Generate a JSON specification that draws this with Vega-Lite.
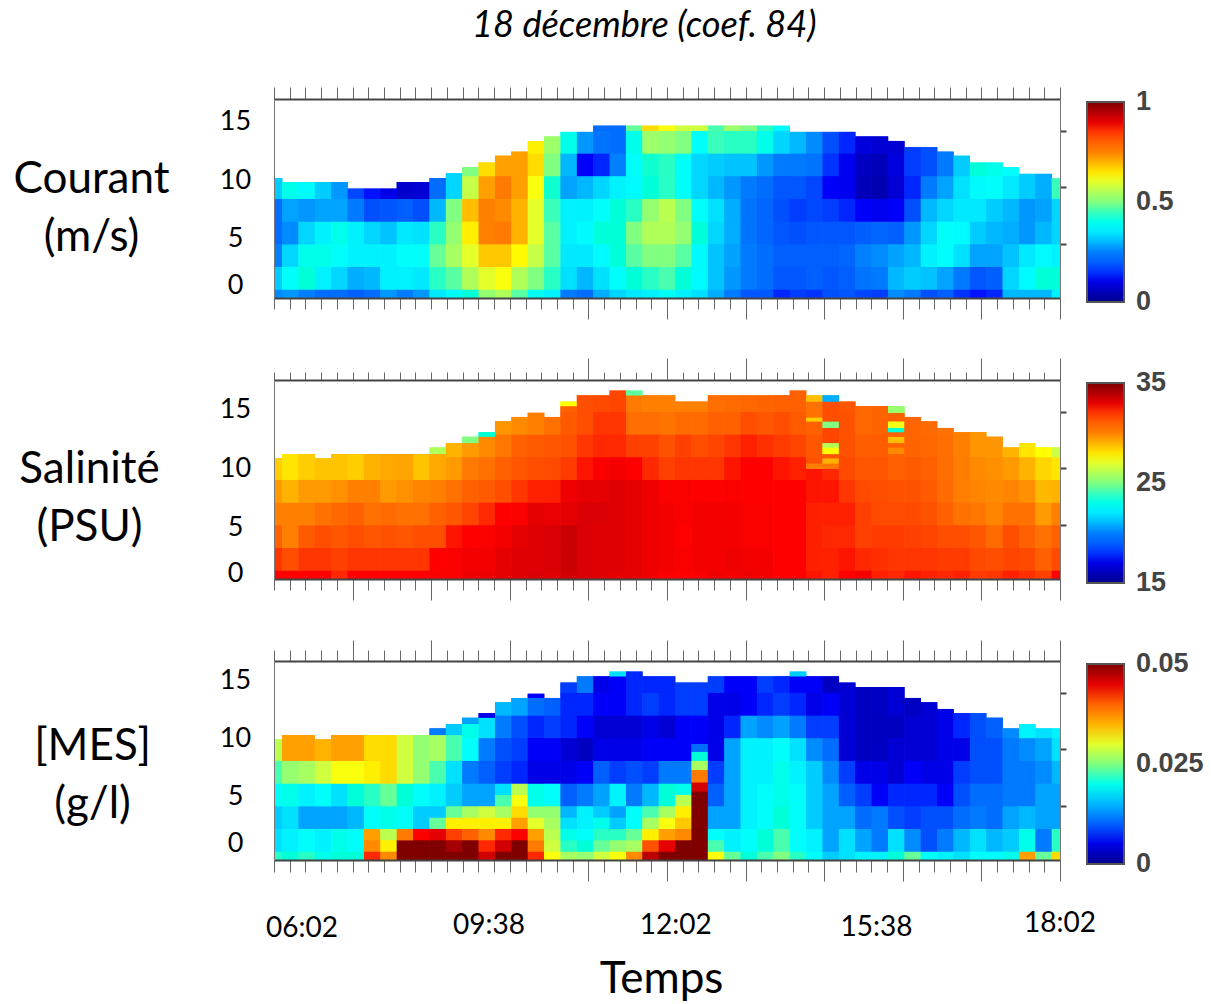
{"$schema":"https://vega.github.io/schema/vega-lite/v6.json","background":"white","padding":{"left":13,"top":8,"right":0,"bottom":0},"config":{"view":{"stroke":null},"font":"Lato"},"title":{"text":"18 décembre (coef. 84)","font":"Lato","fontStyle":"italic","fontWeight":"normal","fontSize":36.2,"color":"black","anchor":"start","frame":"bounds","offset":42,"dx":459},"spacing":82,"bounds":"flush","resolve":{"scale":{"color":"independent"},"legend":{"color":"independent"}},
"datasets":{
"courant":[
{"t":0,"a":0,"b":1,"v":0.26},{"t":0,"a":1,"b":3,"v":0.32},{"t":0,"a":3,"b":5,"v":0.25},{"t":0,"a":5,"b":7,"v":0.22},{"t":0,"a":7,"b":9,"v":0.22},{"t":0,"a":9,"b":10.83,"v":0.32},
{"t":15,"a":0,"b":1,"v":0.27},{"t":15,"a":1,"b":3,"v":0.38},{"t":15,"a":3,"b":5,"v":0.33},{"t":15,"a":5,"b":7,"v":0.26},{"t":15,"a":7,"b":9,"v":0.28},{"t":15,"a":9,"b":10.48,"v":0.4},
{"t":30,"a":0,"b":1,"v":0.25},{"t":30,"a":1,"b":3,"v":0.42},{"t":30,"a":3,"b":5,"v":0.4},{"t":30,"a":5,"b":7,"v":0.33},{"t":30,"a":7,"b":9,"v":0.27},{"t":30,"a":9,"b":10.48,"v":0.37},
{"t":45,"a":0,"b":1,"v":0.22},{"t":45,"a":1,"b":3,"v":0.36},{"t":45,"a":3,"b":5,"v":0.4},{"t":45,"a":5,"b":7,"v":0.36},{"t":45,"a":7,"b":9,"v":0.28},{"t":45,"a":9,"b":10.48,"v":0.32},
{"t":60,"a":0,"b":1,"v":0.22},{"t":60,"a":1,"b":3,"v":0.33},{"t":60,"a":3,"b":5,"v":0.38},{"t":60,"a":5,"b":7,"v":0.4},{"t":60,"a":7,"b":9,"v":0.28},{"t":60,"a":9,"b":10.48,"v":0.27},
{"t":75,"a":0,"b":1,"v":0.2},{"t":75,"a":1,"b":3,"v":0.29},{"t":75,"a":3,"b":5,"v":0.36},{"t":75,"a":5,"b":7,"v":0.36},{"t":75,"a":7,"b":9,"v":0.24},{"t":75,"a":9,"b":9.9,"v":0.17},
{"t":90,"a":0,"b":1,"v":0.22},{"t":90,"a":1,"b":3,"v":0.3},{"t":90,"a":3,"b":5,"v":0.36},{"t":90,"a":5,"b":7,"v":0.33},{"t":90,"a":7,"b":9,"v":0.18},{"t":90,"a":9,"b":9.9,"v":0.13},
{"t":105,"a":0,"b":1,"v":0.27},{"t":105,"a":1,"b":3,"v":0.36},{"t":105,"a":3,"b":5,"v":0.36},{"t":105,"a":5,"b":7,"v":0.31},{"t":105,"a":7,"b":9,"v":0.19},{"t":105,"a":9,"b":9.9,"v":0.1},
{"t":120,"a":0,"b":1,"v":0.24},{"t":120,"a":1,"b":3,"v":0.36},{"t":120,"a":3,"b":5,"v":0.38},{"t":120,"a":5,"b":7,"v":0.35},{"t":120,"a":7,"b":9,"v":0.2},{"t":120,"a":9,"b":10.48,"v":0.07},
{"t":135,"a":0,"b":1,"v":0.27},{"t":135,"a":1,"b":3,"v":0.35},{"t":135,"a":3,"b":5,"v":0.38},{"t":135,"a":5,"b":7,"v":0.34},{"t":135,"a":7,"b":9,"v":0.18},{"t":135,"a":9,"b":10.48,"v":0.08},
{"t":150,"a":0,"b":1,"v":0.35},{"t":150,"a":1,"b":3,"v":0.44},{"t":150,"a":3,"b":5,"v":0.48},{"t":150,"a":5,"b":7,"v":0.44},{"t":150,"a":7,"b":9,"v":0.3},{"t":150,"a":9,"b":10.83,"v":0.22},
{"t":165,"a":0,"b":1,"v":0.37},{"t":165,"a":1,"b":3,"v":0.47},{"t":165,"a":3,"b":5,"v":0.54},{"t":165,"a":5,"b":7,"v":0.52},{"t":165,"a":7,"b":9,"v":0.5},{"t":165,"a":9,"b":11.25,"v":0.33},
{"t":180,"a":0,"b":1,"v":0.42},{"t":180,"a":1,"b":3,"v":0.55},{"t":180,"a":3,"b":5,"v":0.6},{"t":180,"a":5,"b":7,"v":0.64},{"t":180,"a":7,"b":9,"v":0.69},{"t":180,"a":9,"b":11,"v":0.57},{"t":180,"a":11,"b":11.8,"v":0.5},
{"t":195,"a":0,"b":1,"v":0.52},{"t":195,"a":1,"b":3,"v":0.6},{"t":195,"a":3,"b":5,"v":0.68},{"t":195,"a":5,"b":7,"v":0.75},{"t":195,"a":7,"b":9,"v":0.75},{"t":195,"a":9,"b":11,"v":0.72},{"t":195,"a":11,"b":12.2,"v":0.66},
{"t":210,"a":0,"b":1,"v":0.55},{"t":210,"a":1,"b":3,"v":0.62},{"t":210,"a":3,"b":5,"v":0.68},{"t":210,"a":5,"b":7,"v":0.76},{"t":210,"a":7,"b":9,"v":0.74},{"t":210,"a":9,"b":11,"v":0.76},{"t":210,"a":11,"b":12.8,"v":0.72},
{"t":225,"a":0,"b":1,"v":0.47},{"t":225,"a":1,"b":3,"v":0.55},{"t":225,"a":3,"b":5,"v":0.63},{"t":225,"a":5,"b":7,"v":0.7},{"t":225,"a":7,"b":9,"v":0.7},{"t":225,"a":9,"b":11,"v":0.72},{"t":225,"a":11,"b":13.16,"v":0.72},
{"t":240,"a":0,"b":1,"v":0.39},{"t":240,"a":1,"b":3,"v":0.5},{"t":240,"a":3,"b":5,"v":0.57},{"t":240,"a":5,"b":7,"v":0.6},{"t":240,"a":7,"b":9,"v":0.6},{"t":240,"a":9,"b":11,"v":0.62},{"t":240,"a":11,"b":13,"v":0.66},{"t":240,"a":13,"b":14.1,"v":0.64},
{"t":255,"a":0,"b":1,"v":0.36},{"t":255,"a":1,"b":3,"v":0.44},{"t":255,"a":3,"b":5,"v":0.47},{"t":255,"a":5,"b":7,"v":0.47},{"t":255,"a":7,"b":9,"v":0.45},{"t":255,"a":9,"b":11,"v":0.43},{"t":255,"a":11,"b":13,"v":0.5},{"t":255,"a":13,"b":14.5,"v":0.53},
{"t":270,"a":0,"b":1,"v":0.24},{"t":270,"a":1,"b":3,"v":0.34},{"t":270,"a":3,"b":5,"v":0.35},{"t":270,"a":5,"b":7,"v":0.36},{"t":270,"a":7,"b":9,"v":0.36},{"t":270,"a":9,"b":11,"v":0.28},{"t":270,"a":11,"b":13,"v":0.3},{"t":270,"a":13,"b":14.9,"v":0.4},
{"t":285,"a":0,"b":1,"v":0.22},{"t":285,"a":1,"b":3,"v":0.3},{"t":285,"a":3,"b":5,"v":0.35},{"t":285,"a":5,"b":7,"v":0.37},{"t":285,"a":7,"b":9,"v":0.36},{"t":285,"a":9,"b":11,"v":0.3},{"t":285,"a":11,"b":13,"v":0.12},{"t":285,"a":13,"b":14.9,"v":0.27},
{"t":300,"a":0,"b":1,"v":0.29},{"t":300,"a":1,"b":3,"v":0.34},{"t":300,"a":3,"b":5,"v":0.37},{"t":300,"a":5,"b":7,"v":0.42},{"t":300,"a":7,"b":9,"v":0.38},{"t":300,"a":9,"b":11,"v":0.33},{"t":300,"a":11,"b":13,"v":0.14},{"t":300,"a":13,"b":15,"v":0.23},{"t":300,"a":15,"b":15.45,"v":0.22},
{"t":315,"a":0,"b":1,"v":0.33},{"t":315,"a":1,"b":3,"v":0.38},{"t":315,"a":3,"b":5,"v":0.42},{"t":315,"a":5,"b":7,"v":0.42},{"t":315,"a":7,"b":9,"v":0.42},{"t":315,"a":9,"b":11,"v":0.36},{"t":315,"a":11,"b":13,"v":0.25},{"t":315,"a":13,"b":15,"v":0.22},{"t":315,"a":15,"b":15.45,"v":0.22},
{"t":330,"a":0,"b":1,"v":0.35},{"t":330,"a":1,"b":3,"v":0.42},{"t":330,"a":3,"b":5,"v":0.47},{"t":330,"a":5,"b":7,"v":0.5},{"t":330,"a":7,"b":9,"v":0.44},{"t":330,"a":9,"b":11,"v":0.37},{"t":330,"a":11,"b":13,"v":0.38},{"t":330,"a":13,"b":15,"v":0.4},{"t":330,"a":15,"b":15.45,"v":0.48},
{"t":345,"a":0,"b":1,"v":0.36},{"t":345,"a":1,"b":3,"v":0.44},{"t":345,"a":3,"b":5,"v":0.5},{"t":345,"a":5,"b":7,"v":0.55},{"t":345,"a":7,"b":9,"v":0.52},{"t":345,"a":9,"b":11,"v":0.42},{"t":345,"a":11,"b":13,"v":0.43},{"t":345,"a":13,"b":15,"v":0.53},{"t":345,"a":15,"b":15.45,"v":0.66},
{"t":360,"a":0,"b":1,"v":0.39},{"t":360,"a":1,"b":3,"v":0.46},{"t":360,"a":3,"b":5,"v":0.5},{"t":360,"a":5,"b":7,"v":0.55},{"t":360,"a":7,"b":9,"v":0.56},{"t":360,"a":9,"b":11,"v":0.44},{"t":360,"a":11,"b":13,"v":0.44},{"t":360,"a":13,"b":15,"v":0.52},{"t":360,"a":15,"b":15.45,"v":0.62},
{"t":375,"a":0,"b":1,"v":0.36},{"t":375,"a":1,"b":3,"v":0.42},{"t":375,"a":3,"b":5,"v":0.47},{"t":375,"a":5,"b":7,"v":0.52},{"t":375,"a":7,"b":9,"v":0.5},{"t":375,"a":9,"b":11,"v":0.38},{"t":375,"a":11,"b":13,"v":0.38},{"t":375,"a":13,"b":15,"v":0.5},{"t":375,"a":15,"b":15.45,"v":0.58},
{"t":390,"a":0,"b":1,"v":0.34},{"t":390,"a":1,"b":3,"v":0.37},{"t":390,"a":3,"b":5,"v":0.37},{"t":390,"a":5,"b":7,"v":0.42},{"t":390,"a":7,"b":9,"v":0.38},{"t":390,"a":9,"b":11,"v":0.33},{"t":390,"a":11,"b":13,"v":0.33},{"t":390,"a":13,"b":15,"v":0.38},{"t":390,"a":15,"b":15.45,"v":0.58},
{"t":405,"a":0,"b":1,"v":0.29},{"t":405,"a":1,"b":3,"v":0.31},{"t":405,"a":3,"b":5,"v":0.31},{"t":405,"a":5,"b":7,"v":0.33},{"t":405,"a":7,"b":9,"v":0.34},{"t":405,"a":9,"b":11,"v":0.3},{"t":405,"a":11,"b":13,"v":0.32},{"t":405,"a":13,"b":15,"v":0.45},{"t":405,"a":15,"b":15.45,"v":0.46},
{"t":420,"a":0,"b":1,"v":0.24},{"t":420,"a":1,"b":3,"v":0.27},{"t":420,"a":3,"b":5,"v":0.28},{"t":420,"a":5,"b":7,"v":0.29},{"t":420,"a":7,"b":9,"v":0.29},{"t":420,"a":9,"b":11,"v":0.27},{"t":420,"a":11,"b":13,"v":0.31},{"t":420,"a":13,"b":15,"v":0.44},{"t":420,"a":15,"b":15.45,"v":0.53},
{"t":435,"a":0,"b":1,"v":0.19},{"t":435,"a":1,"b":3,"v":0.24},{"t":435,"a":3,"b":5,"v":0.24},{"t":435,"a":5,"b":7,"v":0.23},{"t":435,"a":7,"b":9,"v":0.23},{"t":435,"a":9,"b":11,"v":0.24},{"t":435,"a":11,"b":13,"v":0.31},{"t":435,"a":13,"b":15,"v":0.44},{"t":435,"a":15,"b":15.45,"v":0.5},
{"t":450,"a":0,"b":1,"v":0.19},{"t":450,"a":1,"b":3,"v":0.22},{"t":450,"a":3,"b":5,"v":0.22},{"t":450,"a":5,"b":7,"v":0.21},{"t":450,"a":7,"b":9,"v":0.21},{"t":450,"a":9,"b":11,"v":0.22},{"t":450,"a":11,"b":13,"v":0.27},{"t":450,"a":13,"b":15,"v":0.4},{"t":450,"a":15,"b":15.45,"v":0.44},
{"t":465,"a":0,"b":1,"v":0.14},{"t":465,"a":1,"b":3,"v":0.19},{"t":465,"a":3,"b":5,"v":0.2},{"t":465,"a":5,"b":7,"v":0.19},{"t":465,"a":7,"b":9,"v":0.18},{"t":465,"a":9,"b":11,"v":0.19},{"t":465,"a":11,"b":13,"v":0.24},{"t":465,"a":13,"b":15,"v":0.33},{"t":465,"a":15,"b":15.45,"v":0.37},
{"t":480,"a":0,"b":1,"v":0.16},{"t":480,"a":1,"b":3,"v":0.19},{"t":480,"a":3,"b":5,"v":0.2},{"t":480,"a":5,"b":7,"v":0.18},{"t":480,"a":7,"b":9,"v":0.16},{"t":480,"a":9,"b":11,"v":0.19},{"t":480,"a":11,"b":13,"v":0.24},{"t":480,"a":13,"b":14.9,"v":0.3},
{"t":495,"a":0,"b":1,"v":0.15},{"t":495,"a":1,"b":3,"v":0.2},{"t":495,"a":3,"b":5,"v":0.2},{"t":495,"a":5,"b":7,"v":0.19},{"t":495,"a":7,"b":9,"v":0.17},{"t":495,"a":9,"b":11,"v":0.17},{"t":495,"a":11,"b":13,"v":0.23},{"t":495,"a":13,"b":14.9,"v":0.26},
{"t":510,"a":0,"b":1,"v":0.18},{"t":510,"a":1,"b":3,"v":0.19},{"t":510,"a":3,"b":5,"v":0.2},{"t":510,"a":5,"b":7,"v":0.19},{"t":510,"a":7,"b":9,"v":0.16},{"t":510,"a":9,"b":11,"v":0.12},{"t":510,"a":11,"b":13,"v":0.15},{"t":510,"a":13,"b":14.9,"v":0.18},
{"t":525,"a":0,"b":1,"v":0.19},{"t":525,"a":1,"b":3,"v":0.2},{"t":525,"a":3,"b":5,"v":0.21},{"t":525,"a":5,"b":7,"v":0.19},{"t":525,"a":7,"b":9,"v":0.14},{"t":525,"a":9,"b":11,"v":0.11},{"t":525,"a":11,"b":13,"v":0.11},{"t":525,"a":13,"b":14.9,"v":0.14},
{"t":540,"a":0,"b":1,"v":0.17},{"t":540,"a":1,"b":3,"v":0.23},{"t":540,"a":3,"b":5,"v":0.25},{"t":540,"a":5,"b":7,"v":0.2},{"t":540,"a":7,"b":9,"v":0.12},{"t":540,"a":9,"b":11,"v":0.05},{"t":540,"a":11,"b":13,"v":0.06},{"t":540,"a":13,"b":14.5,"v":0.09},
{"t":555,"a":0,"b":1,"v":0.16},{"t":555,"a":1,"b":3,"v":0.24},{"t":555,"a":3,"b":5,"v":0.26},{"t":555,"a":5,"b":7,"v":0.21},{"t":555,"a":7,"b":9,"v":0.11},{"t":555,"a":9,"b":11,"v":0.04},{"t":555,"a":11,"b":13,"v":0.05},{"t":555,"a":13,"b":14.5,"v":0.08},
{"t":570,"a":0,"b":1,"v":0.26},{"t":570,"a":1,"b":3,"v":0.3},{"t":570,"a":3,"b":5,"v":0.28},{"t":570,"a":5,"b":7,"v":0.2},{"t":570,"a":7,"b":9,"v":0.12},{"t":570,"a":9,"b":11,"v":0.08},{"t":570,"a":11,"b":13,"v":0.09},{"t":570,"a":13,"b":14.1,"v":0.08},
{"t":585,"a":0,"b":1,"v":0.24},{"t":585,"a":1,"b":3,"v":0.32},{"t":585,"a":3,"b":5,"v":0.3},{"t":585,"a":5,"b":7,"v":0.27},{"t":585,"a":7,"b":9,"v":0.18},{"t":585,"a":9,"b":11,"v":0.14},{"t":585,"a":11,"b":13.55,"v":0.16},
{"t":600,"a":0,"b":1,"v":0.18},{"t":600,"a":1,"b":3,"v":0.31},{"t":600,"a":3,"b":5,"v":0.36},{"t":600,"a":5,"b":7,"v":0.33},{"t":600,"a":7,"b":9,"v":0.3},{"t":600,"a":9,"b":11,"v":0.24},{"t":600,"a":11,"b":13.55,"v":0.18},
{"t":615,"a":0,"b":1,"v":0.2},{"t":615,"a":1,"b":3,"v":0.28},{"t":615,"a":3,"b":5,"v":0.38},{"t":615,"a":5,"b":7,"v":0.38},{"t":615,"a":7,"b":9,"v":0.33},{"t":615,"a":9,"b":11,"v":0.28},{"t":615,"a":11,"b":13.16,"v":0.24},
{"t":630,"a":0,"b":1,"v":0.15},{"t":630,"a":1,"b":3,"v":0.24},{"t":630,"a":3,"b":5,"v":0.34},{"t":630,"a":5,"b":7,"v":0.37},{"t":630,"a":7,"b":9,"v":0.35},{"t":630,"a":9,"b":11,"v":0.34},{"t":630,"a":11,"b":12.8,"v":0.32},
{"t":645,"a":0,"b":1,"v":0.13},{"t":645,"a":1,"b":3,"v":0.19},{"t":645,"a":3,"b":5,"v":0.28},{"t":645,"a":5,"b":7,"v":0.32},{"t":645,"a":7,"b":9,"v":0.35},{"t":645,"a":9,"b":11,"v":0.37},{"t":645,"a":11,"b":12.2,"v":0.42},
{"t":660,"a":0,"b":1,"v":0.14},{"t":660,"a":1,"b":3,"v":0.2},{"t":660,"a":3,"b":5,"v":0.28},{"t":660,"a":5,"b":7,"v":0.3},{"t":660,"a":7,"b":9,"v":0.32},{"t":660,"a":9,"b":11,"v":0.38},{"t":660,"a":11,"b":12.2,"v":0.4},
{"t":675,"a":0,"b":1,"v":0.3},{"t":675,"a":1,"b":3,"v":0.33},{"t":675,"a":3,"b":5,"v":0.31},{"t":675,"a":5,"b":7,"v":0.29},{"t":675,"a":7,"b":9,"v":0.3},{"t":675,"a":9,"b":11,"v":0.35},{"t":675,"a":11,"b":11.8,"v":0.38},
{"t":690,"a":0,"b":1,"v":0.3},{"t":690,"a":1,"b":3,"v":0.37},{"t":690,"a":3,"b":5,"v":0.35},{"t":690,"a":5,"b":7,"v":0.27},{"t":690,"a":7,"b":9,"v":0.27},{"t":690,"a":9,"b":11.2,"v":0.32},
{"t":705,"a":0,"b":1,"v":0.3},{"t":705,"a":1,"b":3,"v":0.42},{"t":705,"a":3,"b":5,"v":0.37},{"t":705,"a":5,"b":7,"v":0.3},{"t":705,"a":7,"b":9,"v":0.28},{"t":705,"a":9,"b":11.2,"v":0.29},
{"t":720,"a":0,"b":1,"v":0.36},{"t":720,"a":1,"b":3,"v":0.42},{"t":720,"a":3,"b":5,"v":0.36},{"t":720,"a":5,"b":7,"v":0.33},{"t":720,"a":7,"b":9,"v":0.33},{"t":720,"a":9,"b":10.83,"v":0.45}
],
"salinite":[
{"t":0,"a":0,"b":1,"v":32.5},{"t":0,"a":1,"b":3,"v":32},{"t":0,"a":3,"b":5,"v":31},{"t":0,"a":5,"b":7,"v":30},{"t":0,"a":7,"b":9,"v":29.5},{"t":0,"a":9,"b":10.9,"v":28.5},
{"t":15,"a":0,"b":1,"v":32.5},{"t":15,"a":1,"b":3,"v":31.5},{"t":15,"a":3,"b":5,"v":30},{"t":15,"a":5,"b":7,"v":30},{"t":15,"a":7,"b":9,"v":29},{"t":15,"a":9,"b":11.27,"v":28},
{"t":30,"a":0,"b":1,"v":32.5},{"t":30,"a":1,"b":3,"v":32},{"t":30,"a":3,"b":5,"v":31.2},{"t":30,"a":5,"b":7,"v":30},{"t":30,"a":7,"b":9,"v":29.5},{"t":30,"a":9,"b":11.27,"v":28.5},
{"t":45,"a":0,"b":1,"v":32.5},{"t":45,"a":1,"b":3,"v":32},{"t":45,"a":3,"b":5,"v":31.5},{"t":45,"a":5,"b":7,"v":30.5},{"t":45,"a":7,"b":9,"v":29.5},{"t":45,"a":9,"b":10.9,"v":28.7},
{"t":60,"a":0,"b":1,"v":32.2},{"t":60,"a":1,"b":3,"v":31.8},{"t":60,"a":3,"b":5,"v":31.3},{"t":60,"a":5,"b":7,"v":30.8},{"t":60,"a":7,"b":9,"v":29.7},{"t":60,"a":9,"b":11.27,"v":28.7},
{"t":75,"a":0,"b":1,"v":32.5},{"t":75,"a":1,"b":3,"v":32},{"t":75,"a":3,"b":5,"v":31.5},{"t":75,"a":5,"b":7,"v":31},{"t":75,"a":7,"b":9,"v":30},{"t":75,"a":9,"b":11.27,"v":28.5},
{"t":90,"a":0,"b":1,"v":32.5},{"t":90,"a":1,"b":3,"v":32},{"t":90,"a":3,"b":5,"v":31.3},{"t":90,"a":5,"b":7,"v":30.5},{"t":90,"a":7,"b":9,"v":30},{"t":90,"a":9,"b":11.27,"v":29},
{"t":105,"a":0,"b":1,"v":32.5},{"t":105,"a":1,"b":3,"v":32},{"t":105,"a":3,"b":5,"v":31.4},{"t":105,"a":5,"b":7,"v":30.7},{"t":105,"a":7,"b":9,"v":29.5},{"t":105,"a":9,"b":11.27,"v":29.2},
{"t":120,"a":0,"b":1,"v":32.5},{"t":120,"a":1,"b":3,"v":32},{"t":120,"a":3,"b":5,"v":31.3},{"t":120,"a":5,"b":7,"v":30.5},{"t":120,"a":7,"b":9,"v":29.7},{"t":120,"a":9,"b":11.27,"v":29.3},
{"t":135,"a":0,"b":1,"v":32.5},{"t":135,"a":1,"b":3,"v":32},{"t":135,"a":3,"b":5,"v":31.5},{"t":135,"a":5,"b":7,"v":30.5},{"t":135,"a":7,"b":9,"v":29.9},{"t":135,"a":9,"b":11.27,"v":28.7},
{"t":150,"a":0,"b":1,"v":32.6},{"t":150,"a":1,"b":3,"v":32.5},{"t":150,"a":3,"b":5,"v":31.5},{"t":150,"a":5,"b":7,"v":31},{"t":150,"a":7,"b":9,"v":30},{"t":150,"a":9,"b":11.27,"v":29.2},{"t":150,"a":11.27,"b":11.86,"v":26},
{"t":165,"a":0,"b":1,"v":32.6},{"t":165,"a":1,"b":3,"v":32.6},{"t":165,"a":3,"b":5,"v":32.4},{"t":165,"a":5,"b":7,"v":31.3},{"t":165,"a":7,"b":9,"v":30.5},{"t":165,"a":9,"b":11,"v":29.5},{"t":165,"a":11,"b":12.24,"v":29},
{"t":180,"a":0,"b":1,"v":32.8},{"t":180,"a":1,"b":3,"v":32.7},{"t":180,"a":3,"b":5,"v":32.5},{"t":180,"a":5,"b":7,"v":31.7},{"t":180,"a":7,"b":9,"v":31},{"t":180,"a":9,"b":11,"v":30.2},{"t":180,"a":11,"b":12.24,"v":29.5},{"t":180,"a":12.24,"b":12.8,"v":25},
{"t":195,"a":0,"b":1,"v":32.8},{"t":195,"a":1,"b":3,"v":32.7},{"t":195,"a":3,"b":5,"v":32.6},{"t":195,"a":5,"b":7,"v":32.2},{"t":195,"a":7,"b":9,"v":31.2},{"t":195,"a":9,"b":11,"v":30.5},{"t":195,"a":11,"b":12.8,"v":29.8},{"t":195,"a":12.8,"b":13.2,"v":23.5},
{"t":210,"a":0,"b":1,"v":33},{"t":210,"a":1,"b":3,"v":33},{"t":210,"a":3,"b":5,"v":32.7},{"t":210,"a":5,"b":7,"v":32.5},{"t":210,"a":7,"b":9,"v":31.5},{"t":210,"a":9,"b":11,"v":31},{"t":210,"a":11,"b":13,"v":30.3},{"t":210,"a":13,"b":14.16,"v":29.6},
{"t":225,"a":0,"b":1,"v":33.1},{"t":225,"a":1,"b":3,"v":33.1},{"t":225,"a":3,"b":5,"v":33},{"t":225,"a":5,"b":7,"v":32.6},{"t":225,"a":7,"b":9,"v":32},{"t":225,"a":9,"b":11,"v":31.3},{"t":225,"a":11,"b":13,"v":31},{"t":225,"a":13,"b":14.54,"v":29.8},
{"t":240,"a":0,"b":1,"v":33.2},{"t":240,"a":1,"b":3,"v":33.1},{"t":240,"a":3,"b":5,"v":33.1},{"t":240,"a":5,"b":7,"v":33},{"t":240,"a":7,"b":9,"v":32.3},{"t":240,"a":9,"b":11,"v":31.5},{"t":240,"a":11,"b":13,"v":31.2},{"t":240,"a":13,"b":14.92,"v":30},
{"t":255,"a":0,"b":1,"v":33.1},{"t":255,"a":1,"b":3,"v":33.2},{"t":255,"a":3,"b":5,"v":33.2},{"t":255,"a":5,"b":7,"v":32.9},{"t":255,"a":7,"b":9,"v":32.3},{"t":255,"a":9,"b":11,"v":31.6},{"t":255,"a":11,"b":13,"v":31.3},{"t":255,"a":13,"b":14.54,"v":30.5},
{"t":270,"a":0,"b":1,"v":33.4},{"t":270,"a":1,"b":3,"v":33.5},{"t":270,"a":3,"b":5,"v":33.5},{"t":270,"a":5,"b":7,"v":33},{"t":270,"a":7,"b":9,"v":32.8},{"t":270,"a":9,"b":11,"v":31.9},{"t":270,"a":11,"b":13,"v":31.4},{"t":270,"a":13,"b":15,"v":31.2},{"t":270,"a":15,"b":15.5,"v":31},{"t":270,"a":15.5,"b":15.9,"v":27.5},
{"t":285,"a":0,"b":1,"v":33.2},{"t":285,"a":1,"b":3,"v":33.2},{"t":285,"a":3,"b":5,"v":33.2},{"t":285,"a":5,"b":7,"v":33.2},{"t":285,"a":7,"b":9,"v":33},{"t":285,"a":9,"b":11,"v":32.4},{"t":285,"a":11,"b":13,"v":32},{"t":285,"a":13,"b":15,"v":31.5},{"t":285,"a":15,"b":16.45,"v":31.5},
{"t":300,"a":0,"b":1,"v":33.1},{"t":300,"a":1,"b":3,"v":33.1},{"t":300,"a":3,"b":5,"v":33.1},{"t":300,"a":5,"b":7,"v":33.2},{"t":300,"a":7,"b":9,"v":33},{"t":300,"a":9,"b":11,"v":32.6},{"t":300,"a":11,"b":13,"v":32.2},{"t":300,"a":13,"b":15,"v":32},{"t":300,"a":15,"b":16.45,"v":31.6},
{"t":315,"a":0,"b":1,"v":33},{"t":315,"a":1,"b":3,"v":33.1},{"t":315,"a":3,"b":5,"v":33.1},{"t":315,"a":5,"b":7,"v":33.1},{"t":315,"a":7,"b":9,"v":33.1},{"t":315,"a":9,"b":11,"v":32.7},{"t":315,"a":11,"b":13,"v":32.2},{"t":315,"a":13,"b":15,"v":32},{"t":315,"a":15,"b":16.87,"v":31.7},
{"t":330,"a":0,"b":1,"v":33},{"t":330,"a":1,"b":3,"v":33},{"t":330,"a":3,"b":5,"v":33},{"t":330,"a":5,"b":7,"v":33},{"t":330,"a":7,"b":9,"v":33},{"t":330,"a":9,"b":11,"v":32.5},{"t":330,"a":11,"b":13,"v":31.8},{"t":330,"a":13,"b":15,"v":30.6},{"t":330,"a":15,"b":16.45,"v":30.2},{"t":330,"a":16.45,"b":16.87,"v":24.5},
{"t":345,"a":0,"b":1,"v":32.8},{"t":345,"a":1,"b":3,"v":32.8},{"t":345,"a":3,"b":5,"v":32.8},{"t":345,"a":5,"b":7,"v":32.8},{"t":345,"a":7,"b":9,"v":32.8},{"t":345,"a":9,"b":11,"v":32.2},{"t":345,"a":11,"b":13,"v":31.8},{"t":345,"a":13,"b":15,"v":30.6},{"t":345,"a":15,"b":16.45,"v":30},
{"t":360,"a":0,"b":1,"v":32.6},{"t":360,"a":1,"b":3,"v":32.7},{"t":360,"a":3,"b":5,"v":32.7},{"t":360,"a":5,"b":7,"v":32.7},{"t":360,"a":7,"b":9,"v":32.6},{"t":360,"a":9,"b":11,"v":31.8},{"t":360,"a":11,"b":13,"v":31.4},{"t":360,"a":13,"b":15,"v":30.4},{"t":360,"a":15,"b":16.45,"v":30},
{"t":375,"a":0,"b":1,"v":32.5},{"t":375,"a":1,"b":3,"v":32.6},{"t":375,"a":3,"b":5,"v":32.5},{"t":375,"a":5,"b":7,"v":32.6},{"t":375,"a":7,"b":9,"v":32.6},{"t":375,"a":9,"b":11,"v":32},{"t":375,"a":11,"b":13,"v":31.8},{"t":375,"a":13,"b":15,"v":30.7},{"t":375,"a":15,"b":15.9,"v":30},
{"t":390,"a":0,"b":1,"v":32.6},{"t":390,"a":1,"b":3,"v":32.7},{"t":390,"a":3,"b":5,"v":32.7},{"t":390,"a":5,"b":7,"v":32.7},{"t":390,"a":7,"b":9,"v":32.5},{"t":390,"a":9,"b":11,"v":32},{"t":390,"a":11,"b":13,"v":31.5},{"t":390,"a":13,"b":15,"v":30.7},{"t":390,"a":15,"b":15.9,"v":30},
{"t":405,"a":0,"b":1,"v":32.8},{"t":405,"a":1,"b":3,"v":32.7},{"t":405,"a":3,"b":5,"v":32.7},{"t":405,"a":5,"b":7,"v":32.7},{"t":405,"a":7,"b":9,"v":32.5},{"t":405,"a":9,"b":11,"v":32},{"t":405,"a":11,"b":13,"v":31.7},{"t":405,"a":13,"b":15,"v":31},{"t":405,"a":15,"b":16.45,"v":30.6},
{"t":420,"a":0,"b":1,"v":32.7},{"t":420,"a":1,"b":3,"v":32.8},{"t":420,"a":3,"b":5,"v":32.7},{"t":420,"a":5,"b":7,"v":32.7},{"t":420,"a":7,"b":9,"v":32.6},{"t":420,"a":9,"b":11,"v":32.4},{"t":420,"a":11,"b":13,"v":32},{"t":420,"a":13,"b":15,"v":31},{"t":420,"a":15,"b":16.45,"v":30.7},
{"t":435,"a":0,"b":1,"v":32.8},{"t":435,"a":1,"b":3,"v":32.7},{"t":435,"a":3,"b":5,"v":32.6},{"t":435,"a":5,"b":7,"v":32.6},{"t":435,"a":7,"b":9,"v":32.5},{"t":435,"a":9,"b":11,"v":32.5},{"t":435,"a":11,"b":13,"v":32.3},{"t":435,"a":13,"b":15,"v":31.5},{"t":435,"a":15,"b":16.45,"v":30.8},
{"t":450,"a":0,"b":1,"v":32.7},{"t":450,"a":1,"b":3,"v":32.7},{"t":450,"a":3,"b":5,"v":32.6},{"t":450,"a":5,"b":7,"v":32.6},{"t":450,"a":7,"b":9,"v":32.5},{"t":450,"a":9,"b":11,"v":32.5},{"t":450,"a":11,"b":13,"v":32.1},{"t":450,"a":13,"b":15,"v":31.3},{"t":450,"a":15,"b":16.45,"v":30.9},
{"t":465,"a":0,"b":1,"v":32.5},{"t":465,"a":1,"b":3,"v":32.5},{"t":465,"a":3,"b":5,"v":32.5},{"t":465,"a":5,"b":7,"v":32.5},{"t":465,"a":7,"b":9,"v":32.5},{"t":465,"a":9,"b":11,"v":32.4},{"t":465,"a":11,"b":13,"v":31.9},{"t":465,"a":13,"b":15,"v":31.5},{"t":465,"a":15,"b":16.45,"v":31},
{"t":480,"a":0,"b":1,"v":32.5},{"t":480,"a":1,"b":3,"v":32.5},{"t":480,"a":3,"b":5,"v":32.5},{"t":480,"a":5,"b":7,"v":32.5},{"t":480,"a":7,"b":9,"v":32.5},{"t":480,"a":9,"b":11,"v":32.3},{"t":480,"a":11,"b":13,"v":31.7},{"t":480,"a":13,"b":15,"v":31.2},{"t":480,"a":15,"b":16.87,"v":31},
{"t":495,"a":0,"b":1,"v":32.4},{"t":495,"a":1,"b":3,"v":32.3},{"t":495,"a":3,"b":5,"v":32.3},{"t":495,"a":5,"b":7,"v":32.3},{"t":495,"a":7,"b":9,"v":32.4},{"t":495,"a":9,"b":9.95,"v":32.4},{"t":495,"a":9.95,"b":10.45,"v":30},{"t":495,"a":10.45,"b":11,"v":31.4},{"t":495,"a":11,"b":13,"v":31.3},{"t":495,"a":13,"b":14.15,"v":31},{"t":495,"a":14.15,"b":14.5,"v":28.5},{"t":495,"a":14.5,"b":15.9,"v":30.5},{"t":495,"a":15.9,"b":16.45,"v":28.8},
{"t":510,"a":0,"b":1,"v":32.3},{"t":510,"a":1,"b":3,"v":32.3},{"t":510,"a":3,"b":5,"v":32.2},{"t":510,"a":5,"b":7,"v":32.3},{"t":510,"a":7,"b":9,"v":32.4},{"t":510,"a":9,"b":9.95,"v":32.2},{"t":510,"a":9.95,"b":10.45,"v":30.3},{"t":510,"a":10.45,"b":10.9,"v":29},{"t":510,"a":10.9,"b":11.27,"v":31.3},{"t":510,"a":11.27,"b":11.86,"v":27.5},{"t":510,"a":11.86,"b":12.24,"v":26},{"t":510,"a":12.24,"b":13.57,"v":31.7},{"t":510,"a":13.57,"b":14.15,"v":25},{"t":510,"a":14.15,"b":15.9,"v":31.5},{"t":510,"a":15.9,"b":16.45,"v":20.8},
{"t":525,"a":0,"b":1,"v":32.5},{"t":525,"a":1,"b":3,"v":32.4},{"t":525,"a":3,"b":5,"v":32.2},{"t":525,"a":5,"b":7,"v":32.3},{"t":525,"a":7,"b":9,"v":32},{"t":525,"a":9,"b":11,"v":31.6},{"t":525,"a":11,"b":13,"v":31.4},{"t":525,"a":13,"b":15,"v":31.4},{"t":525,"a":15,"b":15.9,"v":31.3},
{"t":540,"a":0,"b":1,"v":32.7},{"t":540,"a":1,"b":3,"v":32.2},{"t":540,"a":3,"b":5,"v":31.8},{"t":540,"a":5,"b":7,"v":31.8},{"t":540,"a":7,"b":9,"v":31.6},{"t":540,"a":9,"b":11,"v":31.3},{"t":540,"a":11,"b":13,"v":31.1},{"t":540,"a":13,"b":15.5,"v":30.8},
{"t":555,"a":0,"b":1,"v":32.3},{"t":555,"a":1,"b":3,"v":32.1},{"t":555,"a":3,"b":5,"v":31.9},{"t":555,"a":5,"b":7,"v":31.6},{"t":555,"a":7,"b":9,"v":31.5},{"t":555,"a":9,"b":11,"v":31.3},{"t":555,"a":11,"b":13,"v":31.1},{"t":555,"a":13,"b":15.5,"v":30.9},
{"t":570,"a":0,"b":1,"v":32.2},{"t":570,"a":1,"b":3,"v":32},{"t":570,"a":3,"b":5,"v":31.9},{"t":570,"a":5,"b":7,"v":31.6},{"t":570,"a":7,"b":9,"v":31.4},{"t":570,"a":9,"b":11.27,"v":31},{"t":570,"a":11.27,"b":11.86,"v":29.8},{"t":570,"a":11.86,"b":12.24,"v":31},{"t":570,"a":12.24,"b":12.8,"v":28.8},{"t":570,"a":12.8,"b":13.2,"v":31},{"t":570,"a":13.2,"b":13.57,"v":23.5},{"t":570,"a":13.57,"b":14.16,"v":27.3},{"t":570,"a":14.16,"b":14.9,"v":31},{"t":570,"a":14.9,"b":15.5,"v":25.5},
{"t":585,"a":0,"b":1,"v":32.4},{"t":585,"a":1,"b":3,"v":32},{"t":585,"a":3,"b":5,"v":31.8},{"t":585,"a":5,"b":7,"v":31.6},{"t":585,"a":7,"b":9,"v":31.4},{"t":585,"a":9,"b":11,"v":31.2},{"t":585,"a":11,"b":13,"v":30.9},{"t":585,"a":13,"b":14.54,"v":30.9},
{"t":600,"a":0,"b":1,"v":32.3},{"t":600,"a":1,"b":3,"v":32},{"t":600,"a":3,"b":5,"v":31.7},{"t":600,"a":5,"b":7,"v":31.4},{"t":600,"a":7,"b":9,"v":31.2},{"t":600,"a":9,"b":11,"v":31},{"t":600,"a":11,"b":13,"v":30.8},{"t":600,"a":13,"b":14.16,"v":30.7},
{"t":615,"a":0,"b":1,"v":32.2},{"t":615,"a":1,"b":3,"v":31.9},{"t":615,"a":3,"b":5,"v":31.5},{"t":615,"a":5,"b":7,"v":31},{"t":615,"a":7,"b":9,"v":30.7},{"t":615,"a":9,"b":11,"v":30.6},{"t":615,"a":11,"b":13,"v":30.6},{"t":615,"a":13,"b":13.57,"v":30.5},
{"t":630,"a":0,"b":1,"v":32.3},{"t":630,"a":1,"b":3,"v":31.9},{"t":630,"a":3,"b":5,"v":31.5},{"t":630,"a":5,"b":7,"v":30.5},{"t":630,"a":7,"b":9,"v":30.1},{"t":630,"a":9,"b":11,"v":30.1},{"t":630,"a":11,"b":13.2,"v":30},
{"t":645,"a":0,"b":1,"v":31.9},{"t":645,"a":1,"b":3,"v":31.6},{"t":645,"a":3,"b":5,"v":31.3},{"t":645,"a":5,"b":7,"v":30.3},{"t":645,"a":7,"b":9,"v":29.9},{"t":645,"a":9,"b":11,"v":29.8},{"t":645,"a":11,"b":13.2,"v":29.6},
{"t":660,"a":0,"b":1,"v":32},{"t":660,"a":1,"b":3,"v":31.5},{"t":660,"a":3,"b":5,"v":30.7},{"t":660,"a":5,"b":7,"v":29.9},{"t":660,"a":7,"b":9,"v":29.8},{"t":660,"a":9,"b":11,"v":29.7},{"t":660,"a":11,"b":12.8,"v":29.6},
{"t":675,"a":0,"b":1,"v":32.3},{"t":675,"a":1,"b":3,"v":31.7},{"t":675,"a":3,"b":5,"v":31.5},{"t":675,"a":5,"b":7,"v":30.5},{"t":675,"a":7,"b":9,"v":29.9},{"t":675,"a":9,"b":11,"v":29.5},{"t":675,"a":11,"b":11.86,"v":29},
{"t":690,"a":0,"b":1,"v":32.1},{"t":690,"a":1,"b":3,"v":31.6},{"t":690,"a":3,"b":5,"v":31},{"t":690,"a":5,"b":7,"v":30.5},{"t":690,"a":7,"b":9,"v":29.7},{"t":690,"a":9,"b":11,"v":29},{"t":690,"a":11,"b":12.24,"v":28},
{"t":705,"a":0,"b":1,"v":31.8},{"t":705,"a":1,"b":3,"v":31},{"t":705,"a":3,"b":5,"v":30.5},{"t":705,"a":5,"b":7,"v":29.5},{"t":705,"a":7,"b":9,"v":28.9},{"t":705,"a":9,"b":11,"v":28.3},{"t":705,"a":11,"b":11.86,"v":27.5},
{"t":720,"a":0,"b":1,"v":32.5},{"t":720,"a":1,"b":3,"v":31.6},{"t":720,"a":3,"b":5,"v":31},{"t":720,"a":5,"b":7,"v":30},{"t":720,"a":7,"b":9,"v":29},{"t":720,"a":9,"b":11,"v":28},{"t":720,"a":11,"b":11.86,"v":26.5}
],
"mes":[
{"t":0,"a":0,"b":1,"v":0.022},{"t":0,"a":1,"b":3,"v":0.017},{"t":0,"a":3,"b":5,"v":0.016},{"t":0,"a":5,"b":7,"v":0.019},{"t":0,"a":7,"b":9,"v":0.023},{"t":0,"a":9,"b":10.9,"v":0.028},
{"t":15,"a":0,"b":1,"v":0.021},{"t":15,"a":1,"b":3,"v":0.018},{"t":15,"a":3,"b":5,"v":0.017},{"t":15,"a":5,"b":7,"v":0.02},{"t":15,"a":7,"b":9,"v":0.026},{"t":15,"a":9,"b":11.27,"v":0.036},
{"t":30,"a":0,"b":1,"v":0.022},{"t":30,"a":1,"b":3,"v":0.019},{"t":30,"a":3,"b":5,"v":0.014},{"t":30,"a":5,"b":7,"v":0.018},{"t":30,"a":7,"b":9,"v":0.027},{"t":30,"a":9,"b":11.27,"v":0.036},
{"t":45,"a":0,"b":1,"v":0.02},{"t":45,"a":1,"b":3,"v":0.018},{"t":45,"a":3,"b":5,"v":0.014},{"t":45,"a":5,"b":7,"v":0.019},{"t":45,"a":7,"b":9,"v":0.029},{"t":45,"a":9,"b":10.9,"v":0.035},
{"t":60,"a":0,"b":1,"v":0.021},{"t":60,"a":1,"b":3,"v":0.02},{"t":60,"a":3,"b":5,"v":0.014},{"t":60,"a":5,"b":7,"v":0.017},{"t":60,"a":7,"b":9,"v":0.031},{"t":60,"a":9,"b":11.27,"v":0.036},
{"t":75,"a":0,"b":1,"v":0.021},{"t":75,"a":1,"b":3,"v":0.019},{"t":75,"a":3,"b":5,"v":0.015},{"t":75,"a":5,"b":7,"v":0.021},{"t":75,"a":7,"b":9,"v":0.031},{"t":75,"a":9,"b":11.27,"v":0.036},
{"t":90,"a":0,"b":1,"v":0.043},{"t":90,"a":1,"b":2,"v":0.037},{"t":90,"a":2,"b":3,"v":0.036},{"t":90,"a":3,"b":5,"v":0.019},{"t":90,"a":5,"b":7,"v":0.022},{"t":90,"a":7,"b":9,"v":0.032},{"t":90,"a":9,"b":11.27,"v":0.033},
{"t":105,"a":0,"b":1,"v":0.037},{"t":105,"a":1,"b":2,"v":0.032},{"t":105,"a":2,"b":3,"v":0.028},{"t":105,"a":3,"b":5,"v":0.02},{"t":105,"a":5,"b":7,"v":0.024},{"t":105,"a":7,"b":9,"v":0.033},{"t":105,"a":9,"b":11.27,"v":0.033},
{"t":120,"a":0,"b":1,"v":0.05},{"t":120,"a":1,"b":2,"v":0.05},{"t":120,"a":2,"b":3,"v":0.038},{"t":120,"a":3,"b":5,"v":0.019},{"t":120,"a":5,"b":7,"v":0.021},{"t":120,"a":7,"b":9,"v":0.029},{"t":120,"a":9,"b":11.27,"v":0.029},
{"t":135,"a":0,"b":1,"v":0.05},{"t":135,"a":1,"b":2,"v":0.05},{"t":135,"a":2,"b":3,"v":0.044},{"t":135,"a":3,"b":5,"v":0.016},{"t":135,"a":5,"b":7,"v":0.019},{"t":135,"a":7,"b":9,"v":0.026},{"t":135,"a":9,"b":11.27,"v":0.026},
{"t":150,"a":0,"b":1,"v":0.05},{"t":150,"a":1,"b":2,"v":0.05},{"t":150,"a":2,"b":3,"v":0.045},{"t":150,"a":3,"b":4,"v":0.024},{"t":150,"a":4,"b":5,"v":0.016},{"t":150,"a":5,"b":7,"v":0.018},{"t":150,"a":7,"b":9,"v":0.023},{"t":150,"a":9,"b":11.27,"v":0.027},{"t":150,"a":11.27,"b":11.86,"v":0.012},
{"t":165,"a":0,"b":1,"v":0.05},{"t":165,"a":1,"b":2,"v":0.048},{"t":165,"a":2,"b":3,"v":0.042},{"t":165,"a":3,"b":4,"v":0.032},{"t":165,"a":4,"b":5,"v":0.024},{"t":165,"a":5,"b":7,"v":0.016},{"t":165,"a":7,"b":9,"v":0.017},{"t":165,"a":9,"b":11.27,"v":0.023},{"t":165,"a":11.27,"b":12.24,"v":0.016},
{"t":180,"a":0,"b":1,"v":0.05},{"t":180,"a":1,"b":2,"v":0.05},{"t":180,"a":2,"b":3,"v":0.04},{"t":180,"a":3,"b":4,"v":0.032},{"t":180,"a":4,"b":5,"v":0.027},{"t":180,"a":5,"b":7,"v":0.014},{"t":180,"a":7,"b":9,"v":0.012},{"t":180,"a":9,"b":11,"v":0.019},{"t":180,"a":11,"b":12.24,"v":0.02},{"t":180,"a":12.24,"b":12.8,"v":0.014},
{"t":195,"a":0,"b":1,"v":0.046},{"t":195,"a":1,"b":2,"v":0.043},{"t":195,"a":2,"b":3,"v":0.037},{"t":195,"a":3,"b":4,"v":0.032},{"t":195,"a":4,"b":5,"v":0.029},{"t":195,"a":5,"b":7,"v":0.014},{"t":195,"a":7,"b":9,"v":0.01},{"t":195,"a":9,"b":11,"v":0.012},{"t":195,"a":11,"b":12.8,"v":0.017},{"t":195,"a":12.8,"b":13.2,"v":0.005},
{"t":210,"a":0,"b":1,"v":0.05},{"t":210,"a":1,"b":2,"v":0.046},{"t":210,"a":2,"b":3,"v":0.043},{"t":210,"a":3,"b":4,"v":0.032},{"t":210,"a":4,"b":5,"v":0.027},{"t":210,"a":5,"b":6,"v":0.023},{"t":210,"a":6,"b":7,"v":0.017},{"t":210,"a":7,"b":9,"v":0.008},{"t":210,"a":9,"b":11,"v":0.009},{"t":210,"a":11,"b":13,"v":0.012},{"t":210,"a":13,"b":14.16,"v":0.015},
{"t":225,"a":0,"b":1,"v":0.05},{"t":225,"a":1,"b":2,"v":0.05},{"t":225,"a":2,"b":3,"v":0.044},{"t":225,"a":3,"b":4,"v":0.036},{"t":225,"a":4,"b":5,"v":0.033},{"t":225,"a":5,"b":6,"v":0.031},{"t":225,"a":6,"b":7,"v":0.028},{"t":225,"a":7,"b":9,"v":0.007},{"t":225,"a":9,"b":11,"v":0.008},{"t":225,"a":11,"b":13,"v":0.009},{"t":225,"a":13,"b":14.54,"v":0.014},
{"t":240,"a":0,"b":1,"v":0.043},{"t":240,"a":1,"b":2,"v":0.038},{"t":240,"a":2,"b":3,"v":0.036},{"t":240,"a":3,"b":4,"v":0.03},{"t":240,"a":4,"b":5,"v":0.026},{"t":240,"a":5,"b":7,"v":0.02},{"t":240,"a":7,"b":9,"v":0.005},{"t":240,"a":9,"b":11,"v":0.006},{"t":240,"a":11,"b":13,"v":0.007},{"t":240,"a":13,"b":14.54,"v":0.011},{"t":240,"a":14.54,"b":14.92,"v":0.006},
{"t":255,"a":0,"b":1,"v":0.031},{"t":255,"a":1,"b":2,"v":0.029},{"t":255,"a":2,"b":3,"v":0.028},{"t":255,"a":3,"b":4,"v":0.027},{"t":255,"a":4,"b":5,"v":0.026},{"t":255,"a":5,"b":7,"v":0.019},{"t":255,"a":7,"b":9,"v":0.005},{"t":255,"a":9,"b":11,"v":0.006},{"t":255,"a":11,"b":13,"v":0.008},{"t":255,"a":13,"b":14.54,"v":0.01},
{"t":270,"a":0,"b":1,"v":0.027},{"t":270,"a":1,"b":2,"v":0.022},{"t":270,"a":2,"b":3,"v":0.02},{"t":270,"a":3,"b":4,"v":0.017},{"t":270,"a":4,"b":5,"v":0.015},{"t":270,"a":5,"b":7,"v":0.01},{"t":270,"a":7,"b":9,"v":0.005},{"t":270,"a":9,"b":11,"v":0.004},{"t":270,"a":11,"b":13,"v":0.007},{"t":270,"a":13,"b":15,"v":0.007},{"t":270,"a":15,"b":15.9,"v":0.008},
{"t":285,"a":0,"b":1,"v":0.026},{"t":285,"a":1,"b":2,"v":0.021},{"t":285,"a":2,"b":3,"v":0.019},{"t":285,"a":3,"b":4,"v":0.018},{"t":285,"a":4,"b":5,"v":0.018},{"t":285,"a":5,"b":7,"v":0.012},{"t":285,"a":7,"b":9,"v":0.006},{"t":285,"a":9,"b":11,"v":0.003},{"t":285,"a":11,"b":13,"v":0.006},{"t":285,"a":13,"b":15,"v":0.007},{"t":285,"a":15,"b":16.45,"v":0.012},
{"t":300,"a":0,"b":1,"v":0.029},{"t":300,"a":1,"b":2,"v":0.024},{"t":300,"a":2,"b":3,"v":0.022},{"t":300,"a":3,"b":4,"v":0.02},{"t":300,"a":4,"b":5,"v":0.016},{"t":300,"a":5,"b":7,"v":0.014},{"t":300,"a":7,"b":9,"v":0.01},{"t":300,"a":9,"b":11,"v":0.005},{"t":300,"a":11,"b":13,"v":0.004},{"t":300,"a":13,"b":15,"v":0.006},{"t":300,"a":15,"b":16.45,"v":0.005},
{"t":315,"a":0,"b":1,"v":0.031},{"t":315,"a":1,"b":2,"v":0.026},{"t":315,"a":2,"b":3,"v":0.022},{"t":315,"a":3,"b":4,"v":0.016},{"t":315,"a":4,"b":5,"v":0.014},{"t":315,"a":5,"b":7,"v":0.018},{"t":315,"a":7,"b":9,"v":0.008},{"t":315,"a":9,"b":11,"v":0.005},{"t":315,"a":11,"b":13,"v":0.004},{"t":315,"a":13,"b":15,"v":0.006},{"t":315,"a":15,"b":16.45,"v":0.006},{"t":315,"a":16.45,"b":16.87,"v":0.017},
{"t":330,"a":0,"b":1,"v":0.037},{"t":330,"a":1,"b":2,"v":0.027},{"t":330,"a":2,"b":3,"v":0.024},{"t":330,"a":3,"b":4,"v":0.019},{"t":330,"a":4,"b":5,"v":0.019},{"t":330,"a":5,"b":7,"v":0.012},{"t":330,"a":7,"b":9,"v":0.009},{"t":330,"a":9,"b":11,"v":0.005},{"t":330,"a":11,"b":13,"v":0.004},{"t":330,"a":13,"b":15,"v":0.007},{"t":330,"a":15,"b":16.87,"v":0.007},
{"t":345,"a":0,"b":1,"v":0.047},{"t":345,"a":1,"b":2,"v":0.041},{"t":345,"a":2,"b":3,"v":0.032},{"t":345,"a":3,"b":4,"v":0.027},{"t":345,"a":4,"b":5,"v":0.023},{"t":345,"a":5,"b":7,"v":0.015},{"t":345,"a":7,"b":9,"v":0.008},{"t":345,"a":9,"b":11,"v":0.006},{"t":345,"a":11,"b":13,"v":0.005},{"t":345,"a":13,"b":15,"v":0.008},{"t":345,"a":15,"b":16.45,"v":0.007},
{"t":360,"a":0,"b":1,"v":0.05},{"t":360,"a":1,"b":2,"v":0.045},{"t":360,"a":2,"b":3,"v":0.036},{"t":360,"a":3,"b":4,"v":0.031},{"t":360,"a":4,"b":5,"v":0.027},{"t":360,"a":5,"b":7,"v":0.021},{"t":360,"a":7,"b":9,"v":0.012},{"t":360,"a":9,"b":11,"v":0.006},{"t":360,"a":11,"b":13,"v":0.004},{"t":360,"a":13,"b":15,"v":0.007},{"t":360,"a":15,"b":16.45,"v":0.007},
{"t":375,"a":0,"b":1,"v":0.05},{"t":375,"a":1,"b":2,"v":0.05},{"t":375,"a":2,"b":3,"v":0.037},{"t":375,"a":3,"b":4,"v":0.034},{"t":375,"a":4,"b":5,"v":0.032},{"t":375,"a":5,"b":6,"v":0.028},{"t":375,"a":6,"b":7,"v":0.02},{"t":375,"a":7,"b":9,"v":0.012},{"t":375,"a":9,"b":11,"v":0.006},{"t":375,"a":11,"b":13,"v":0.006},{"t":375,"a":13,"b":15.9,"v":0.008},
{"t":390,"a":0,"b":6.3,"v":0.05},{"t":390,"a":6.3,"b":7.1,"v":0.046},{"t":390,"a":7.1,"b":8.2,"v":0.038},{"t":390,"a":8.2,"b":9,"v":0.027},{"t":390,"a":9,"b":9.8,"v":0.021},{"t":390,"a":9.8,"b":10.5,"v":0.011},{"t":390,"a":10.5,"b":13,"v":0.006},{"t":390,"a":13,"b":15.9,"v":0.008},
{"t":405,"a":0,"b":1,"v":0.031},{"t":405,"a":1,"b":2,"v":0.023},{"t":405,"a":2,"b":3,"v":0.019},{"t":405,"a":3,"b":5,"v":0.014},{"t":405,"a":5,"b":7,"v":0.01},{"t":405,"a":7,"b":9,"v":0.008},{"t":405,"a":9,"b":11,"v":0.005},{"t":405,"a":11,"b":13,"v":0.005},{"t":405,"a":13,"b":15,"v":0.005},{"t":405,"a":15,"b":16.45,"v":0.008},
{"t":420,"a":0,"b":1,"v":0.024},{"t":420,"a":1,"b":3,"v":0.018},{"t":420,"a":3,"b":5,"v":0.014},{"t":420,"a":5,"b":7,"v":0.014},{"t":420,"a":7,"b":9,"v":0.014},{"t":420,"a":9,"b":11,"v":0.014},{"t":420,"a":11,"b":13,"v":0.007},{"t":420,"a":13,"b":15,"v":0.005},{"t":420,"a":15,"b":16.45,"v":0.006},
{"t":435,"a":0,"b":1,"v":0.021},{"t":435,"a":1,"b":3,"v":0.019},{"t":435,"a":3,"b":5,"v":0.018},{"t":435,"a":5,"b":7,"v":0.018},{"t":435,"a":7,"b":9,"v":0.018},{"t":435,"a":9,"b":11,"v":0.018},{"t":435,"a":11,"b":13,"v":0.014},{"t":435,"a":13,"b":15,"v":0.006},{"t":435,"a":15,"b":16.45,"v":0.006},
{"t":450,"a":0,"b":1,"v":0.023},{"t":450,"a":1,"b":3,"v":0.021},{"t":450,"a":3,"b":5,"v":0.019},{"t":450,"a":5,"b":7,"v":0.019},{"t":450,"a":7,"b":9,"v":0.018},{"t":450,"a":9,"b":11,"v":0.018},{"t":450,"a":11,"b":13,"v":0.013},{"t":450,"a":13,"b":15,"v":0.007},{"t":450,"a":15,"b":16.45,"v":0.008},
{"t":465,"a":0,"b":1,"v":0.025},{"t":465,"a":1,"b":3,"v":0.023},{"t":465,"a":3,"b":5,"v":0.021},{"t":465,"a":5,"b":7,"v":0.02},{"t":465,"a":7,"b":9,"v":0.02},{"t":465,"a":9,"b":11,"v":0.019},{"t":465,"a":11,"b":13,"v":0.014},{"t":465,"a":13,"b":15,"v":0.008},{"t":465,"a":15,"b":16.45,"v":0.007},
{"t":480,"a":0,"b":1,"v":0.022},{"t":480,"a":1,"b":3,"v":0.019},{"t":480,"a":3,"b":5,"v":0.019},{"t":480,"a":5,"b":7,"v":0.019},{"t":480,"a":7,"b":9,"v":0.018},{"t":480,"a":9,"b":11,"v":0.017},{"t":480,"a":11,"b":13,"v":0.012},{"t":480,"a":13,"b":15,"v":0.007},{"t":480,"a":15,"b":16.45,"v":0.006},{"t":480,"a":16.45,"b":16.87,"v":0.016},
{"t":495,"a":0,"b":1,"v":0.019},{"t":495,"a":1,"b":3,"v":0.018},{"t":495,"a":3,"b":5,"v":0.016},{"t":495,"a":5,"b":7,"v":0.016},{"t":495,"a":7,"b":9,"v":0.016},{"t":495,"a":9,"b":11,"v":0.013},{"t":495,"a":11,"b":13,"v":0.008},{"t":495,"a":13,"b":15,"v":0.005},{"t":495,"a":15,"b":16.45,"v":0.006},
{"t":510,"a":0,"b":1,"v":0.016},{"t":510,"a":1,"b":3,"v":0.014},{"t":510,"a":3,"b":5,"v":0.014},{"t":510,"a":5,"b":7,"v":0.014},{"t":510,"a":7,"b":9,"v":0.013},{"t":510,"a":9,"b":11,"v":0.011},{"t":510,"a":11,"b":13,"v":0.008},{"t":510,"a":13,"b":15,"v":0.006},{"t":510,"a":15,"b":16.45,"v":0.003},
{"t":525,"a":0,"b":1,"v":0.017},{"t":525,"a":1,"b":3,"v":0.017},{"t":525,"a":3,"b":5,"v":0.014},{"t":525,"a":5,"b":7,"v":0.01},{"t":525,"a":7,"b":9,"v":0.008},{"t":525,"a":9,"b":11,"v":0.004},{"t":525,"a":11,"b":13,"v":0.004},{"t":525,"a":13,"b":15.9,"v":0.004},
{"t":540,"a":0,"b":1,"v":0.018},{"t":540,"a":1,"b":3,"v":0.014},{"t":540,"a":3,"b":5,"v":0.011},{"t":540,"a":5,"b":7,"v":0.008},{"t":540,"a":7,"b":9,"v":0.005},{"t":540,"a":9,"b":11,"v":0.003},{"t":540,"a":11,"b":13,"v":0.003},{"t":540,"a":13,"b":15.5,"v":0.003},
{"t":555,"a":0,"b":1,"v":0.018},{"t":555,"a":1,"b":3,"v":0.012},{"t":555,"a":3,"b":5,"v":0.012},{"t":555,"a":5,"b":7,"v":0.006},{"t":555,"a":7,"b":9,"v":0.005},{"t":555,"a":9,"b":11,"v":0.003},{"t":555,"a":11,"b":13,"v":0.003},{"t":555,"a":13,"b":15.5,"v":0.003},
{"t":570,"a":0,"b":1,"v":0.021},{"t":570,"a":1,"b":3,"v":0.017},{"t":570,"a":3,"b":5,"v":0.009},{"t":570,"a":5,"b":7,"v":0.007},{"t":570,"a":7,"b":9,"v":0.004},{"t":570,"a":9,"b":11,"v":0.004},{"t":570,"a":11,"b":13,"v":0.003},{"t":570,"a":13,"b":15.5,"v":0.004},
{"t":585,"a":0,"b":1,"v":0.024},{"t":585,"a":1,"b":3,"v":0.013},{"t":585,"a":3,"b":5,"v":0.008},{"t":585,"a":5,"b":7,"v":0.007},{"t":585,"a":7,"b":9,"v":0.006},{"t":585,"a":9,"b":11,"v":0.004},{"t":585,"a":11,"b":13,"v":0.004},{"t":585,"a":13,"b":14.54,"v":0.003},
{"t":600,"a":0,"b":1,"v":0.019},{"t":600,"a":1,"b":3,"v":0.009},{"t":600,"a":3,"b":5,"v":0.009},{"t":600,"a":5,"b":7,"v":0.007},{"t":600,"a":7,"b":9,"v":0.005},{"t":600,"a":9,"b":11,"v":0.004},{"t":600,"a":11,"b":13,"v":0.004},{"t":600,"a":13,"b":14.16,"v":0.004},
{"t":615,"a":0,"b":1,"v":0.018},{"t":615,"a":1,"b":3,"v":0.012},{"t":615,"a":3,"b":5,"v":0.009},{"t":615,"a":5,"b":7,"v":0.006},{"t":615,"a":7,"b":9,"v":0.005},{"t":615,"a":9,"b":11,"v":0.005},{"t":615,"a":11,"b":13.57,"v":0.005},
{"t":630,"a":0,"b":1,"v":0.017},{"t":630,"a":1,"b":3,"v":0.015},{"t":630,"a":3,"b":5,"v":0.011},{"t":630,"a":5,"b":7,"v":0.009},{"t":630,"a":7,"b":9,"v":0.008},{"t":630,"a":9,"b":11,"v":0.005},{"t":630,"a":11,"b":13.2,"v":0.007},
{"t":645,"a":0,"b":1,"v":0.019},{"t":645,"a":1,"b":3,"v":0.017},{"t":645,"a":3,"b":5,"v":0.012},{"t":645,"a":5,"b":7,"v":0.011},{"t":645,"a":7,"b":9,"v":0.009},{"t":645,"a":9,"b":11,"v":0.009},{"t":645,"a":11,"b":13.2,"v":0.009},
{"t":660,"a":0,"b":1,"v":0.019},{"t":660,"a":1,"b":3,"v":0.015},{"t":660,"a":3,"b":5,"v":0.011},{"t":660,"a":5,"b":7,"v":0.011},{"t":660,"a":7,"b":9,"v":0.009},{"t":660,"a":9,"b":11,"v":0.009},{"t":660,"a":11,"b":12.8,"v":0.01},
{"t":675,"a":0,"b":1,"v":0.02},{"t":675,"a":1,"b":3,"v":0.016},{"t":675,"a":3,"b":5,"v":0.014},{"t":675,"a":5,"b":7,"v":0.012},{"t":675,"a":7,"b":9,"v":0.012},{"t":675,"a":9,"b":11,"v":0.012},{"t":675,"a":11,"b":11.86,"v":0.013},
{"t":690,"a":0,"b":1,"v":0.036},{"t":690,"a":1,"b":3,"v":0.02},{"t":690,"a":3,"b":5,"v":0.015},{"t":690,"a":5,"b":7,"v":0.012},{"t":690,"a":7,"b":9,"v":0.012},{"t":690,"a":9,"b":11,"v":0.013},{"t":690,"a":11,"b":12.24,"v":0.018},
{"t":705,"a":0,"b":1,"v":0.024},{"t":705,"a":1,"b":3,"v":0.012},{"t":705,"a":3,"b":5,"v":0.014},{"t":705,"a":5,"b":7,"v":0.014},{"t":705,"a":7,"b":9,"v":0.013},{"t":705,"a":9,"b":11,"v":0.014},{"t":705,"a":11,"b":11.86,"v":0.017},
{"t":720,"a":0,"b":1,"v":0.033},{"t":720,"a":1,"b":3,"v":0.022},{"t":720,"a":3,"b":5,"v":0.014},{"t":720,"a":5,"b":7,"v":0.014},{"t":720,"a":7,"b":9,"v":0.015},{"t":720,"a":9,"b":11,"v":0.017},{"t":720,"a":11,"b":11.86,"v":0.018}
]},
"vconcat":[
{"width":786,"height":199,"layer":[
{"data":{"name":"courant"},"mark":{"type":"rect","width":16.6,"clip":true,"yOffset":1},"encoding":{"x":{"field":"t","type":"quantitative","scale":{"domain":[0,720]},"axis":null},"y":{"field":"a","type":"quantitative","scale":{"domain":[0.25,17.8],"nice":false,"zero":false},"axis":null},"y2":{"field":"b"},"color":{"field":"v","type":"quantitative","scale":{"domain":[0,1],"range":["#00008f","#0000ff","#0080ff","#00ffff","#80ff80","#ffff00","#ff8000","#ff0000","#800000"]},"legend":{"title":null,"orient":"none","legendX":813,"legendY":3,"gradientLength":200,"gradientThickness":37,"gradientStrokeColor":"#555","gradientStrokeWidth":2,"values":[0,0.5,1],"format":".1~f","labelFont":"Liberation Sans","labelFontSize":27,"labelFontWeight":"bold","labelColor":"#444","labelOffset":12,"labelOverlap":false,"encode":{"labels":{"update":{"baseline":{"value":"middle"}}}}}}}},
{"data":{"name":"courant"},"mark":{"type":"rect","width":16.6,"clip":true},"encoding":{"x":{"field":"t","type":"quantitative","scale":{"domain":[0,720]},"axis":{"orient":"bottom","title":null,"labels":false,"grid":false,"values":[0,14.4,28.8,43.2,57.6,72,86.4,100.8,115.2,129.6,144,158.4,172.8,187.2,201.6,216,230.4,244.8,259.2,273.6,288,302.4,316.8,331.2,345.6,360,374.4,388.8,403.2,417.6,432,446.4,460.8,475.2,489.6,504,518.4,532.8,547.2,561.6,576,590.4,604.8,619.2,633.6,648,662.4,676.8,691.2,705.6,720],"domainColor":"#444","domainWidth":2,"tickColor":"#666","tickSize":{"condition":{"test":"datum.value>=287 && round(datum.value/14.4)%5==0","value":21},"value":11},"zindex":1}},"y":{"field":"a","type":"quantitative","scale":{"domain":[0.25,17.8],"nice":false,"zero":false},"axis":{"orient":"left","title":["Courant","(m/s)"],"titleFont":"Lato","titleFontSize":44,"titleFontWeight":"normal","titleColor":"black","titleAngle":0,"titleAlign":"center","titleBaseline":"middle","titleLineHeight":58,"titleX":-183,"titleY":80,"values":[1.35,5.5,10.62,15.82],"labelExpr":"datum.value<2?'0':datum.value<6?'5':datum.value<11?'10':'15'","labelFont":"Lato","labelFontSize":27,"labelColor":"black","labelAlign":"center","labelPadding":39,"tickSize":0,"grid":false,"domainColor":"#777","zindex":1}},"y2":{"field":"b"},"color":{"field":"v","type":"quantitative","scale":{"domain":[0,1],"range":["#00008f","#0000ff","#0080ff","#00ffff","#80ff80","#ffff00","#ff8000","#ff0000","#800000"]},"legend":{"title":null,"orient":"none","legendX":813,"legendY":3,"gradientLength":200,"gradientThickness":37,"gradientStrokeColor":"#555","gradientStrokeWidth":2,"values":[0,0.5,1],"format":".1~f","labelFont":"Liberation Sans","labelFontSize":27,"labelFontWeight":"bold","labelColor":"#444","labelOffset":12,"labelOverlap":false,"encode":{"labels":{"update":{"baseline":{"value":"middle"}}}}}}}},
{"data":{"values":[{"t":0,"a":1}]},"mark":{"type":"point","opacity":0},"encoding":{"x":{"field":"t","type":"quantitative","scale":{"domain":[0,720]},"axis":{"orient":"top","title":null,"labels":false,"grid":false,"values":[0,14.4,28.8,43.2,57.6,72,86.4,100.8,115.2,129.6,144,158.4,172.8,187.2,201.6,216,230.4,244.8,259.2,273.6,288,302.4,316.8,331.2,345.6,360,374.4,388.8,403.2,417.6,432,446.4,460.8,475.2,489.6,504,518.4,532.8,547.2,561.6,576,590.4,604.8,619.2,633.6,648,662.4,676.8,691.2,705.6,720],"domainColor":"#444","domainWidth":2,"tickColor":"#666","tickSize":12,"zindex":1}},"y":{"field":"a","type":"quantitative","scale":{"domain":[0.25,17.8],"nice":false,"zero":false},"axis":{"orient":"right","title":null,"labels":false,"grid":false,"values":[5,10,15],"tickSize":6,"tickWidth":2,"tickColor":"#444","domainColor":"#777","zindex":1}}}}
],"resolve":{"axis":{"x":"independent","y":"independent"}}},
{"width":786,"height":199,"layer":[
{"data":{"name":"salinite"},"mark":{"type":"rect","width":16.6,"clip":true,"yOffset":1},"encoding":{"x":{"field":"t","type":"quantitative","scale":{"domain":[0,720]},"axis":null},"y":{"field":"a","type":"quantitative","scale":{"domain":[0.25,17.8],"nice":false,"zero":false},"axis":null},"y2":{"field":"b"},"color":{"field":"v","type":"quantitative","scale":{"domain":[15,35],"range":["#00008f","#0000ff","#0080ff","#00ffff","#80ff80","#ffff00","#ff8000","#ff0000","#800000"]},"legend":{"title":null,"orient":"none","legendX":813,"legendY":3,"gradientLength":200,"gradientThickness":37,"gradientStrokeColor":"#555","gradientStrokeWidth":2,"values":[15,25,35],"labelFont":"Liberation Sans","labelFontSize":27,"labelFontWeight":"bold","labelColor":"#444","labelOffset":12,"labelOverlap":false,"encode":{"labels":{"update":{"baseline":{"value":"middle"}}}}}}}},
{"data":{"name":"salinite"},"mark":{"type":"rect","width":16.6,"clip":true},"encoding":{"x":{"field":"t","type":"quantitative","scale":{"domain":[0,720]},"axis":{"orient":"bottom","title":null,"labels":false,"grid":false,"values":[0,14.4,28.8,43.2,57.6,72,86.4,100.8,115.2,129.6,144,158.4,172.8,187.2,201.6,216,230.4,244.8,259.2,273.6,288,302.4,316.8,331.2,345.6,360,374.4,388.8,403.2,417.6,432,446.4,460.8,475.2,489.6,504,518.4,532.8,547.2,561.6,576,590.4,604.8,619.2,633.6,648,662.4,676.8,691.2,705.6,720],"domainColor":"#444","domainWidth":2,"tickColor":"#666","tickSize":{"condition":{"test":"datum.value>=70 && round(datum.value/14.4)%5==0","value":21},"value":11},"zindex":1}},"y":{"field":"a","type":"quantitative","scale":{"domain":[0.25,17.8],"nice":false,"zero":false},"axis":{"orient":"left","title":["Salinité","(PSU)"],"titleFont":"Lato","titleFontSize":44,"titleFontWeight":"normal","titleColor":"black","titleAngle":0,"titleAlign":"center","titleBaseline":"middle","titleLineHeight":58,"titleX":-185,"titleY":89,"values":[0.75,4.75,9.98,15.18],"labelExpr":"datum.value<2?'0':datum.value<6?'5':datum.value<11?'10':'15'","labelFont":"Lato","labelFontSize":27,"labelColor":"black","labelAlign":"center","labelPadding":39,"tickSize":0,"grid":false,"domainColor":"#777","zindex":1}},"y2":{"field":"b"},"color":{"field":"v","type":"quantitative","scale":{"domain":[15,35],"range":["#00008f","#0000ff","#0080ff","#00ffff","#80ff80","#ffff00","#ff8000","#ff0000","#800000"]},"legend":{"title":null,"orient":"none","legendX":813,"legendY":3,"gradientLength":200,"gradientThickness":37,"gradientStrokeColor":"#555","gradientStrokeWidth":2,"values":[15,25,35],"labelFont":"Liberation Sans","labelFontSize":27,"labelFontWeight":"bold","labelColor":"#444","labelOffset":12,"labelOverlap":false,"encode":{"labels":{"update":{"baseline":{"value":"middle"}}}}}}}},
{"data":{"values":[{"t":0,"a":1}]},"mark":{"type":"point","opacity":0},"encoding":{"x":{"field":"t","type":"quantitative","scale":{"domain":[0,720]},"axis":{"orient":"top","title":null,"labels":false,"grid":false,"values":[0,14.4,28.8,43.2,57.6,72,86.4,100.8,115.2,129.6,144,158.4,172.8,187.2,201.6,216,230.4,244.8,259.2,273.6,288,302.4,316.8,331.2,345.6,360,374.4,388.8,403.2,417.6,432,446.4,460.8,475.2,489.6,504,518.4,532.8,547.2,561.6,576,590.4,604.8,619.2,633.6,648,662.4,676.8,691.2,705.6,720],"domainColor":"#444","domainWidth":2,"tickColor":"#666","tickSize":{"condition":{"test":"datum.value>=287 && round(datum.value/14.4)%5==0","value":22},"value":8},"zindex":1}},"y":{"field":"a","type":"quantitative","scale":{"domain":[0.25,17.8],"nice":false,"zero":false},"axis":{"orient":"right","title":null,"labels":false,"grid":false,"values":[5,10,15],"tickSize":6,"tickWidth":2,"tickColor":"#444","domainColor":"#777","zindex":1}}}}
],"resolve":{"axis":{"x":"independent","y":"independent"}}},
{"width":786,"height":199,"layer":[
{"data":{"name":"mes"},"mark":{"type":"rect","width":16.6,"clip":true,"yOffset":1},"encoding":{"x":{"field":"t","type":"quantitative","scale":{"domain":[0,720]},"axis":null},"y":{"field":"a","type":"quantitative","scale":{"domain":[0.25,17.8],"nice":false,"zero":false},"axis":null},"y2":{"field":"b"},"color":{"field":"v","type":"quantitative","scale":{"domain":[0,0.05],"range":["#00008f","#0000ff","#0080ff","#00ffff","#80ff80","#ffff00","#ff8000","#ff0000","#800000"]},"legend":{"title":null,"orient":"none","legendX":813,"legendY":3,"gradientLength":200,"gradientThickness":37,"gradientStrokeColor":"#555","gradientStrokeWidth":2,"values":[0,0.025,0.05],"format":".3~f","labelFont":"Liberation Sans","labelFontSize":27,"labelFontWeight":"bold","labelColor":"#444","labelOffset":12,"labelOverlap":false,"encode":{"labels":{"update":{"baseline":{"value":"middle"}}}}}}}},
{"data":{"name":"mes"},"mark":{"type":"rect","width":16.6,"clip":true},"encoding":{"x":{"field":"t","type":"quantitative","scale":{"domain":[0,720]},"axis":{"orient":"bottom","title":"Temps","titleFont":"Lato","titleFontSize":44,"titleFontWeight":"normal","titleColor":"black","titleX":387,"titleY":97,"labels":false,"grid":false,"values":[0,14.4,28.8,43.2,57.6,72,86.4,100.8,115.2,129.6,144,158.4,172.8,187.2,201.6,216,230.4,244.8,259.2,273.6,288,302.4,316.8,331.2,345.6,360,374.4,388.8,403.2,417.6,432,446.4,460.8,475.2,489.6,504,518.4,532.8,547.2,561.6,576,590.4,604.8,619.2,633.6,648,662.4,676.8,691.2,705.6,720],"domainColor":"#444","domainWidth":2,"tickColor":"#666","tickSize":{"condition":{"test":"datum.value>=287 && round(datum.value/14.4)%5==0","value":21},"value":12},"zindex":1}},"y":{"field":"a","type":"quantitative","scale":{"domain":[0.25,17.8],"nice":false,"zero":false},"axis":{"orient":"left","title":["[MES]","(g/l)"],"titleFont":"Lato","titleFontSize":44,"titleFontWeight":"normal","titleColor":"black","titleAngle":0,"titleAlign":"center","titleBaseline":"middle","titleLineHeight":58,"titleX":-182,"titleY":85,"values":[1.68,5.84,11,16.1],"labelExpr":"datum.value<2.5?'0':datum.value<7?'5':datum.value<12?'10':'15'","labelFont":"Lato","labelFontSize":27,"labelColor":"black","labelAlign":"center","labelPadding":39,"tickSize":0,"grid":false,"domainColor":"#777","zindex":1}},"y2":{"field":"b"},"color":{"field":"v","type":"quantitative","scale":{"domain":[0,0.05],"range":["#00008f","#0000ff","#0080ff","#00ffff","#80ff80","#ffff00","#ff8000","#ff0000","#800000"]},"legend":{"title":null,"orient":"none","legendX":813,"legendY":3,"gradientLength":200,"gradientThickness":37,"gradientStrokeColor":"#555","gradientStrokeWidth":2,"values":[0,0.025,0.05],"format":".3~f","labelFont":"Liberation Sans","labelFontSize":27,"labelFontWeight":"bold","labelColor":"#444","labelOffset":12,"labelOverlap":false,"encode":{"labels":{"update":{"baseline":{"value":"middle"}}}}}}}},
{"data":{"values":[{"t":0,"a":1}]},"mark":{"type":"point","opacity":0},"encoding":{"x":{"field":"t","type":"quantitative","scale":{"domain":[0,720]},"axis":{"orient":"top","title":null,"labels":false,"grid":false,"values":[0,14.4,28.8,43.2,57.6,72,86.4,100.8,115.2,129.6,144,158.4,172.8,187.2,201.6,216,230.4,244.8,259.2,273.6,288,302.4,316.8,331.2,345.6,360,374.4,388.8,403.2,417.6,432,446.4,460.8,475.2,489.6,504,518.4,532.8,547.2,561.6,576,590.4,604.8,619.2,633.6,648,662.4,676.8,691.2,705.6,720],"domainColor":"#444","domainWidth":2,"tickColor":"#666","tickSize":{"condition":{"test":"datum.value>=70 && round(datum.value/14.4)%5==0","value":21},"value":11},"zindex":1}},"y":{"field":"a","type":"quantitative","scale":{"domain":[0.25,17.8],"nice":false,"zero":false},"axis":{"orient":"right","title":null,"labels":false,"grid":false,"values":[5,10,15],"tickSize":6,"tickWidth":2,"tickColor":"#444","domainColor":"#777","zindex":1}}}},
{"data":{"values":[{"t":25.6,"a":-5.81,"label":"06:02"},{"t":197,"a":-5.54,"label":"09:38"},{"t":368,"a":-5.54,"label":"12:02"},{"t":552,"a":-5.72,"label":"15:38"},{"t":720,"a":-5.36,"label":"18:02"}]},"mark":{"type":"text","font":"Lato","fontSize":28,"color":"black","clip":false},"encoding":{"x":{"field":"t","type":"quantitative","scale":{"domain":[0,720]},"axis":null},"y":{"field":"a","type":"quantitative","scale":{"domain":[0.25,17.8],"nice":false,"zero":false},"axis":null},"text":{"field":"label"}}}
],"resolve":{"axis":{"x":"independent","y":"independent"}}}
]}
